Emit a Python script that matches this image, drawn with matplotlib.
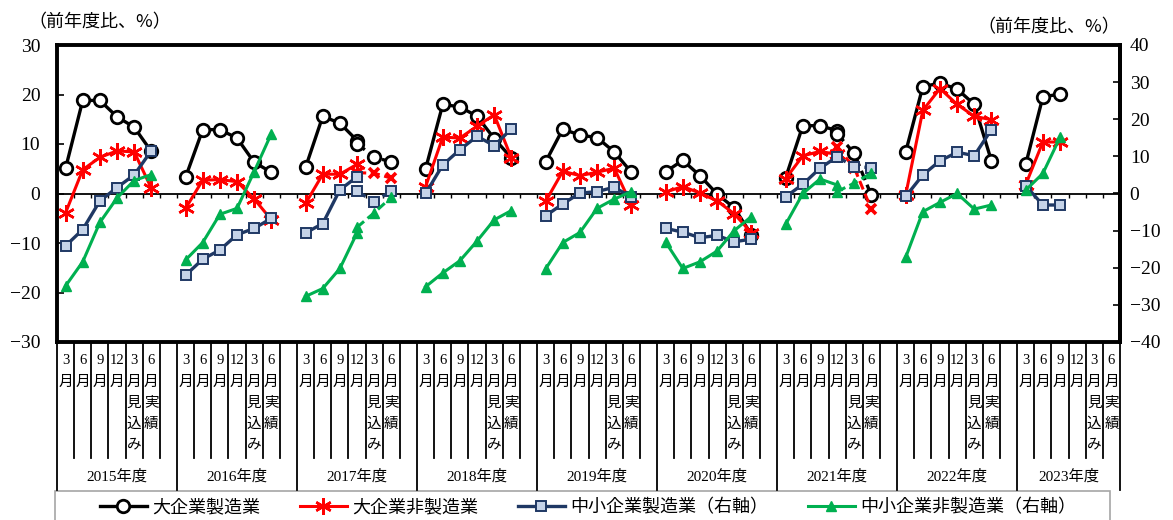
import numpy as np
import matplotlib
matplotlib.use('Agg')
import matplotlib.pyplot as plt
from matplotlib.lines import Line2D
from matplotlib.patches import Rectangle
from matplotlib import transforms

plt.rcParams['font.family'] = ['Liberation Serif', 'Noto Sans CJK JP']
plt.rcParams['axes.unicode_minus'] = True

nan = np.nan

years = ['2015年度', '2016年度', '2017年度', '2018年度', '2019年度',
         '2020年度', '2021年度', '2022年度', '2023年度']
slot_labels = ['3月', '6月', '9月', '12月', '3月見込み', '6月実績', '']

# values per fiscal year: 3月, 6月, 9月, 12月, 3月見込み, 6月実績
large_mfg = [
    [5.1, 18.8, 18.8, 15.5, 13.4, 8.5],
    [3.3, 12.9, 12.9, 11.2, 6.3, 4.3],
    [5.3, 15.6, 14.2, 10.7, nan, nan],
    [5.0, 18.0, 17.5, 15.6, 11.1, 7.2],
    [6.4, 13.0, 11.8, 11.3, 8.4, 4.3],
    [4.4, 6.7, 3.6, -0.1, -2.9, -8.3],
    [3.2, 13.7, 13.7, 12.7, nan, nan],
    [8.4, 21.6, 22.3, 21.1, 18.0, 6.6],
    [5.9, 19.5, 20.1],
]
large_nonmfg = [
    [-3.9, 4.8, 7.3, 8.6, 8.4, 1.1],
    [-3.0, 2.7, 2.8, 2.4, -1.1, -5.3],
    [-2.0, 3.9, 3.9, 5.9, nan, nan],
    [1.4, 11.4, 11.2, 13.6, 15.9, 7.2],
    [-1.6, 4.5, 3.6, 4.3, 5.1, -2.3],
    [0.3, 1.4, 0.1, -1.5, -4.1, -7.9],
    [3.0, 7.6, 8.5, 7.9, nan, nan],
    [-0.3, 16.8, 21.2, 18.0, 15.6, 14.9],
    [1.8, 10.4, 10.4],
]
small_mfg = [
    [-14.1, -9.7, -2.0, 1.6, 5.0, 11.5],
    [-22.0, -17.7, -15.2, -11.1, -9.4, -6.7],
    [-10.6, -8.1, 1.0, 4.5, nan, nan],
    [0.0, 7.7, 11.8, 15.4, 12.9, 17.4],
    [-6.0, -2.8, 0.1, 0.5, 1.7, -1.0],
    [-9.4, -10.4, -11.9, -11.3, -13.0, -12.3],
    [-0.9, 2.5, 6.8, 9.9, nan, nan],
    [-0.8, 5.0, 8.8, 11.1, 10.2, 17.2],
    [2.1, -3.1, -3.1],
]
small_nonmfg = [
    [-24.9, -18.4, -7.8, -1.2, 3.5, 5.1],
    [-17.9, -13.2, -5.6, -4.0, 5.9, 16.1],
    [-27.7, -25.6, -20.2, -10.6, nan, nan],
    [-25.1, -21.4, -18.1, -12.8, -7.1, -4.6],
    [-20.3, -13.2, -10.5, -4.0, -1.5, 0.5],
    [-13.1, -20.2, -18.4, -15.5, -10.0, -6.2],
    [-8.3, 0.0, 3.9, 2.3, nan, nan],
    [-17.2, -4.9, -2.4, 0.0, -4.2, -3.1],
    [0.9, 5.4, 15.1],
]

# new sample basis (12月, 3月見込み, 6月実績), dashed
new_base_years = [2, 6]
large_mfg_new = [[10.1, 7.3, 6.4], [12.1, 8.1, -0.4]]
large_nonmfg_new = [[4.2, 4.1, 3.1], [9.4, 5.2, -3.2]]
small_mfg_new = [[0.6, -2.2, 0.7], [9.9, 7.2, 7.0]]
small_nonmfg_new = [[-9.1, -5.2, -1.0], [0.5, 2.8, 5.5]]

N_SLOTS = 8 * 7 + 6


def expand(per_year):
    arr = np.full(N_SLOTS, nan)
    for i, vals in enumerate(per_year):
        for j, v in enumerate(vals):
            arr[i * 7 + j] = v
    return arr


def expand_new(per_year):
    arr = np.full(N_SLOTS, nan)
    for yi, vals in zip(new_base_years, per_year):
        for j, v in enumerate(vals):
            arr[yi * 7 + 3 + j] = v
    return arr


x = np.arange(N_SLOTS)

W, H = 1173, 520
fig = plt.figure(figsize=(W / 100, H / 100), dpi=100)
ax = fig.add_axes([57 / W, 1 - 342 / H, (1120 - 57) / W, (342 - 45) / H])
ax2 = ax.twinx()

BLACK = '#000000'
RED = '#ff0000'
NAVY = '#1f3864'
NAVY_FACE = '#c5d3e8'
GREEN = '#00b050'

styles = [
    (ax, large_mfg, large_mfg_new, dict(color=BLACK, lw=2.4, marker='o', ms=9,
                                        mfc='white', mec=BLACK, mew=2.0)),
    (ax, large_nonmfg, large_nonmfg_new, dict(color=RED, lw=2.2, marker=(6, 2, 0), ms=12,
                                              mec=RED, mew=1.8)),
    (ax2, small_mfg, small_mfg_new, dict(color=NAVY, lw=2.4, marker='s', ms=7,
                                         mfc=NAVY_FACE, mec=NAVY, mew=1.4)),
    (ax2, small_nonmfg, small_nonmfg_new, dict(color=GREEN, lw=2.2, marker='^', ms=7,
                                               mfc=GREEN, mec=GREEN)),
]
for a, vals, new_vals, st in styles:
    a.plot(x, expand(vals), **st, zorder=3)
    st_new = dict(st)
    if st['color'] == RED:
        st_new.update(marker='x', ms=7, mew=2.6)
    a.plot(x, expand_new(new_vals), ls=(0, (3, 1.5)), **st_new, zorder=3)

ax.set_xlim(-0.5, N_SLOTS - 0.5)
ax.set_ylim(-30, 30)
ax2.set_ylim(-40, 40)
ax.set_yticks(range(-30, 31, 10))
ax2.set_yticks(range(-40, 41, 10))
ax.set_xticks([])
ax.axhline(0, color='black', lw=1.3, zorder=2)
bounds = np.arange(-0.5, N_SLOTS, 1.0)
ax.vlines(bounds, -0.9, 0, color='black', lw=1.0, zorder=2)

ax.tick_params(axis='y', direction='in', length=5, width=1.2, pad=12, labelsize=14)
ax2.tick_params(axis='y', direction='in', length=5, width=1.2, pad=7, labelsize=14)
for sp in ax.spines.values():
    sp.set_linewidth(2.8)
for name, sp in ax2.spines.items():
    if name == 'right':
        sp.set_linewidth(2.8)
    else:
        sp.set_visible(False)

fig.text(28 / W, 1 - 22 / H, '（前年度比、%）', fontsize=13, va='center', ha='left',
         family=['Noto Sans CJK JP'])
fig.text(1120 / W, 1 - 27 / H, '（前年度比、%）', fontsize=13, va='center', ha='right',
         family=['Noto Sans CJK JP'])

# category table below the plot
tr = transforms.blended_transform_factory(ax.transData, fig.transFigure)
year_bounds = [i * 7 - 0.5 for i in range(9)] + [N_SLOTS - 0.5]
for b in bounds:
    y_end = 490 if b in year_bounds else 458
    fig.add_artist(Line2D([b, b], [1 - 342 / H, 1 - y_end / H], transform=tr,
                          color='black', lw=1.3))

for i, yname in enumerate(years):
    n = 7 if i < 8 else 6
    for j in range(n):
        lab = slot_labels[j]
        if not lab:
            continue
        if lab.endswith('月'):
            chars = [lab[:-1], '月']
        else:
            chars = [lab[0], '月'] + list(lab[2:])
        for k, c in enumerate(chars):
            fig.text(i * 7 + j, 1 - (361 + 21 * k) / H, c, transform=tr,
                     fontsize=10.5, ha='center', va='center')
    cx = i * 7 + (n - 1) / 2
    fig.text(cx, 1 - 476 / H, yname, fontsize=11, ha='center', va='center', transform=tr)

# legend box
fig.add_artist(Rectangle((55 / W, -0.01), (1110 - 55) / W, 1 - 491 / H + 0.01,
                         transform=fig.transFigure, facecolor='white',
                         edgecolor='#a6a6a6', lw=1.2))
handles = [Line2D([], [], **st[3]) for st in styles]
labels = ['大企業製造業', '大企業非製造業', '中小企業製造業（右軸）', '中小企業非製造業（右軸）']
leg = fig.legend(handles, labels, loc='center', ncol=4,
                 bbox_to_anchor=(588 / W, 1 - 507 / H),
                 handlelength=2.6, handletextpad=0.3, columnspacing=2.2,
                 frameon=False, borderaxespad=0, borderpad=0.0,
                 prop={'family': ['Noto Sans CJK JP'], 'size': 13})

fig.savefig('out.png', dpi=100)
